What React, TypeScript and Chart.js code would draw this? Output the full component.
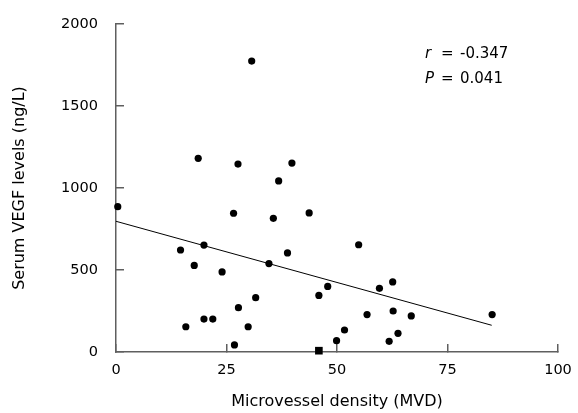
import React, { useEffect, useRef } from "react";
import { Chart, registerables } from "chart.js";

Chart.register(...registerables);

const mvd = [0.4, 14.6, 15.8, 17.7, 18.6, 19.9, 19.9, 21.9, 24.0, 26.6, 26.8, 27.6, 27.7, 29.9, 30.7, 31.6, 34.6, 35.6, 36.8, 38.8, 39.8, 43.7, 45.9, 47.9, 49.9, 51.7, 54.9, 56.8, 59.6, 61.8, 62.6, 62.7, 63.8, 66.8, 85.1];
const vegf = [886, 622, 154, 528, 1181, 652, 201, 201, 488, 846, 43, 1146, 270, 154, 1774, 331, 539, 815, 1043, 604, 1152, 848, 345, 400, 69, 134, 654, 228, 388, 65, 427, 250, 114, 220, 228];
const squareX = [45.9];
const squareY = [8];
const fitX = [0, 85];
const fitY = [797, 163];
const xTicks = [0, 25, 50, 75, 100];
const yTicks = [0, 500, 1000, 1500, 2000];
const statR = "-0.347";
const statP = "0.041";

const FONT = "'DejaVu Sans', Verdana, sans-serif";

const statsPlugin = {
  id: "stats",
  afterDraw(chart: any) {
    const ctx = chart.ctx;
    ctx.save();
    ctx.fillStyle = "#000";
    ctx.textBaseline = "alphabetic";
    const x0 = 425;
    const rows: [string, string, number][] = [
      ["r", statR, 58],
      ["P", statP, 83],
    ];
    for (const [sym, val, y] of rows) {
      ctx.font = `italic 15px ${FONT}`;
      ctx.textAlign = "left";
      ctx.fillText(sym, x0, y);
      ctx.font = `15px ${FONT}`;
      ctx.fillText("=", x0 + 16, y);
      ctx.fillText(val, x0 + 35, y);
    }
    ctx.restore();
  },
};

const zeroPad = (s: any) => {
  s.paddingTop = 0;
  s.paddingBottom = 0;
  s.paddingLeft = 0;
  s.paddingRight = 0;
};

export default function App() {
  const ref = useRef<HTMLCanvasElement | null>(null);
  useEffect(() => {
    document.body.style.margin = "0";
    if (!ref.current) return;
    const axisColor = "#5f5f5f";
    const chart = new Chart(ref.current, {
      type: "scatter",
      data: {
        datasets: [
          {
            type: "line",
            data: fitX.map((x, i) => ({ x, y: fitY[i] })),
            borderColor: "#000",
            borderWidth: 1,
            pointRadius: 0,
            fill: false,
            clip: false as any,
            order: 2,
          } as any,
          {
            data: mvd.map((x, i) => ({ x, y: vegf[i] })),
            backgroundColor: "#000",
            borderColor: "#000",
            pointRadius: 3.6,
            pointBorderWidth: 0,
            clip: false as any,
            order: 1,
          },
          {
            data: squareX.map((x, i) => ({ x, y: squareY[i] })),
            backgroundColor: "#000",
            borderColor: "#000",
            pointStyle: "rect",
            pointRadius: 5.4,
            pointBorderWidth: 0,
            clip: false as any,
            order: 0,
          },
        ],
      },
      options: {
        animation: false,
        responsive: false,
        layout: { autoPadding: false, padding: { top: 24, right: 20, left: 0, bottom: 0 } },
        plugins: { legend: { display: false }, tooltip: { enabled: false } },
        scales: {
          x: {
            type: "linear",
            min: 0,
            max: 100,
            afterFit: (s: any) => {
              s.height = 61;
              zeroPad(s);
            },
            afterBuildTicks: (s: any) => {
              s.ticks = xTicks.map((v) => ({ value: v }));
            },
            grid: {
              drawOnChartArea: false,
              tickLength: -8,
              color: axisColor,
              lineWidth: 1.5,
            },
            border: { display: true, color: axisColor, width: 1.5 },
            ticks: {
              padding: 18,
              color: "#000",
              font: { family: FONT, size: 14.5 },
              maxRotation: 0,
              callback: (v: any) => String(v),
            },
            title: {
              display: true,
              text: "Microvessel density (MVD)",
              color: "#000",
              font: { family: FONT, size: 16 },
              padding: { top: 0, bottom: 1.5 },
            },
          },
          y: {
            type: "linear",
            min: 0,
            max: 2000,
            afterFit: (s: any) => {
              s.width = 116;
              zeroPad(s);
            },
            afterBuildTicks: (s: any) => {
              s.ticks = yTicks.map((v) => ({ value: v }));
            },
            grid: {
              drawOnChartArea: false,
              tickLength: -8,
              color: axisColor,
              lineWidth: 1.5,
            },
            border: { display: true, color: axisColor, width: 1.5 },
            ticks: {
              padding: 26,
              color: "#000",
              font: { family: FONT, size: 14.5 },
              callback: (v: any) => String(v),
            },
            title: {
              display: true,
              text: "Serum VEGF levels (ng/L)",
              color: "#000",
              font: { family: FONT, size: 16 },
              padding: { top: 10, bottom: 0 },
            },
          },
        },
      },
      plugins: [statsPlugin],
    } as any);
    return () => chart.destroy();
  }, []);
  return (
    <div style={{ width: 578, height: 413, background: "#fff" }}>
      <canvas ref={ref} width={578} height={413} style={{ display: "block" }} />
    </div>
  );
}
